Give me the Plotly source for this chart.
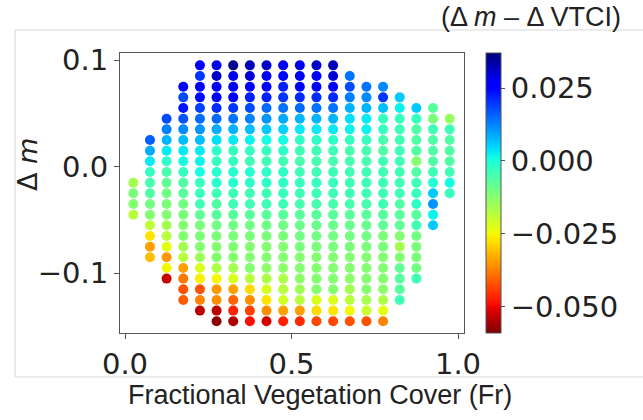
import plotly.graph_objects as go

# Fractional vegetation cover (x) for each column of the grid
FR = [0.025, 0.075, 0.125, 0.175, 0.225, 0.275, 0.325, 0.375, 0.425, 0.475,
      0.525, 0.575, 0.625, 0.675, 0.725, 0.775, 0.825, 0.875, 0.925, 0.975]
# Delta m levels (y), top to bottom
DM = [0.095, 0.085, 0.075, 0.065, 0.055, 0.045, 0.035, 0.025, 0.015, 0.005,
      -0.005, -0.015, -0.025, -0.035, -0.045, -0.055, -0.065, -0.075, -0.085,
      -0.095, -0.105, -0.115, -0.125, -0.135, -0.145]
# first DM row index present in each column
START = [11, 7, 5, 2, 0, 0, 0, 0, 0, 0, 0, 0, 0, 1, 2, 2, 3, 4, 4, 5]
# (Delta m - Delta VTCI) per column, from its top point downward
C0 = [-0.016, -0.011, -0.012, -0.018]
C1 = [0.016, 0.009, 0.003, -0.003, -0.005, -0.006, -0.010, -0.012, -0.019, -0.027, -0.034, -0.031]
C2 = [0.018, 0.013, 0.008, 0.003, -0.002, -0.005, -0.008, -0.010, -0.011, -0.012, -0.016, -0.018,
      -0.023, -0.035, -0.025, -0.053]
C3 = [0.025, 0.018, 0.023, 0.017, 0.012, 0.007, 0.003, 0.001, -0.003, -0.006, -0.007, -0.010,
      -0.011, -0.012, -0.012, -0.016, -0.018, -0.034, -0.038, -0.042, -0.041]
C4 = [0.027, 0.020, 0.025, 0.024, 0.019, 0.015, 0.011, 0.007, 0.003, 0.002, 0.001, -0.003,
      -0.003, -0.004, -0.008, -0.011, -0.011, -0.012, -0.015, -0.022, -0.026, -0.042, -0.037, -0.054]
C5 = [0.028, 0.031, 0.027, 0.025, 0.021, 0.015, 0.009, 0.004, -0.002, -0.003, -0.001, -0.001,
      -0.004, -0.006, -0.007, -0.010, -0.011, -0.012, -0.012, -0.017, -0.025, -0.035, -0.036,
      -0.054, -0.058]
C6 = [0.036, 0.028, 0.027, 0.025, 0.020, 0.014, 0.008, 0.003, -0.003, -0.003, -0.001, -0.001,
      -0.004, -0.004, -0.007, -0.010, -0.011, -0.012, -0.012, -0.016, -0.022, -0.034, -0.040,
      -0.047, -0.055]
C7 = [0.032, 0.030, 0.026, 0.022, 0.018, 0.013, 0.007, 0.002, -0.003, -0.004, -0.001, -0.002,
      -0.004, -0.004, -0.007, -0.010, -0.011, -0.012, -0.012, -0.012, -0.018, -0.028, -0.036,
      -0.044, -0.049]
C8 = [0.031, 0.028, 0.026, 0.022, 0.015, 0.011, 0.006, 0.001, -0.003, -0.004, -0.002, -0.002,
      -0.004, -0.004, -0.007, -0.010, -0.011, -0.012, -0.012, -0.013, -0.017, -0.022, -0.027,
      -0.036, -0.052]
C9 = [0.028, 0.026, 0.022, 0.020, 0.014, 0.009, 0.005, 0.001, -0.002, -0.004, -0.002, -0.002,
      -0.003, -0.004, -0.007, -0.010, -0.011, -0.012, -0.012, -0.013, -0.017, -0.018, -0.021,
      -0.034, -0.047]
C10 = [0.028, 0.027, 0.025, 0.021, 0.015, 0.008, 0.003, -0.002, -0.004, -0.005, -0.004, -0.003,
       -0.004, -0.005, -0.007, -0.009, -0.010, -0.011, -0.012, -0.012, -0.013, -0.015, -0.018,
       -0.034, -0.046]
C11 = [0.031, 0.027, 0.025, 0.021, 0.014, 0.008, 0.003, -0.002, -0.004, -0.005, -0.004, -0.003,
       -0.004, -0.005, -0.007, -0.009, -0.010, -0.011, -0.012, -0.012, -0.012, -0.012, -0.022,
       -0.028, -0.043]
C12 = [0.032, 0.030, 0.027, 0.021, 0.014, 0.008, 0.003, -0.002, -0.004, -0.005, -0.004, -0.003,
       -0.004, -0.005, -0.007, -0.009, -0.010, -0.011, -0.012, -0.012, -0.012, -0.012, -0.022,
       -0.027, -0.043]
C13 = [0.014, 0.018, 0.013, 0.008, 0.004, 0.002, -0.003, -0.005, -0.005, -0.004, -0.004, -0.004,
       -0.005, -0.007, -0.009, -0.010, -0.011, -0.012, -0.012, -0.013, -0.016, -0.018, -0.025,
       -0.042]
C14 = [0.014, 0.012, 0.008, 0.003, 0.002, -0.003, -0.005, -0.005, -0.004, -0.004, -0.004, -0.005,
       -0.007, -0.009, -0.010, -0.011, -0.012, -0.012, -0.012, -0.012, -0.016, -0.020, -0.042]
C15 = [0.012, 0.020, 0.007, -0.003, -0.003, -0.005, -0.006, -0.004, -0.004, -0.004, -0.004, -0.004,
       -0.007, -0.008, -0.011, -0.011, -0.012, -0.012, -0.012, -0.013, -0.017, -0.023, -0.037]
C16 = [0.006, 0.002, -0.003, -0.004, -0.004, -0.004, -0.004, -0.004, -0.004, -0.004, -0.006, -0.007,
       -0.008, -0.012, -0.016, -0.012, -0.008, -0.007, -0.007, -0.004]
C17 = [0.006, -0.003, -0.006, -0.006, -0.006, -0.012, -0.006, -0.004, -0.003, -0.002, -0.007, -0.004,
       -0.010, -0.011, -0.011, -0.010, -0.004]
C18 = [-0.007, -0.011, -0.004, -0.006, -0.006, -0.006, -0.004, -0.001, 0.006, 0.011, 0.002, 0.006]
C19 = [-0.014, -0.004, -0.006, -0.006, -0.006, -0.004, 0.001, -0.003]
COLUMNS = [C0, C1, C2, C3, C4, C5, C6, C7, C8, C9, C10, C11, C12, C13, C14, C15, C16, C17, C18, C19]

X_TICKS = [0.0, 0.5, 1.0]
X_TICKTEXT = ["0.0", "0.5", "1.0"]
Y_TICKS = [0.1, 0.0, -0.1]
Y_TICKTEXT = ["0.1", "0.0", "\u22120.1"]
CB_TICKS = [0.025, 0.0, -0.025, -0.05]
CB_TICKTEXT = ["0.025", "0.000", "\u22120.025", "\u22120.050"]
VMIN, VMAX = -0.059, 0.037

xs, ys, vs = [], [], []
for fr, start, col in zip(FR, START, COLUMNS):
    for i, v in enumerate(col):
        xs.append(fr)
        ys.append(DM[start + i])
        vs.append(v)

# matplotlib 'jet', reversed
def interp(seg, t):
    for (a, va), (b, vb) in zip(seg[:-1], seg[1:]):
        if a <= t <= b:
            return va + (vb - va) * (t - a) / (b - a) if b > a else va
    return seg[-1][1]

RED = [(0, 0), (0.35, 0), (0.66, 1), (0.89, 1), (1, 0.5)]
GRN = [(0, 0), (0.125, 0), (0.375, 1), (0.64, 1), (0.91, 0), (1, 0)]
BLU = [(0, 0.5), (0.11, 1), (0.34, 1), (0.65, 0), (1, 0)]
scale = []
N = 64
for i in range(N + 1):
    t = i / N
    s = 1 - t
    r, g, b = interp(RED, s), interp(GRN, s), interp(BLU, s)
    scale.append([t, f"rgb({int(r*255)},{int(g*255)},{int(b*255)})"])

fig = go.Figure(go.Scatter(
    x=xs, y=ys, mode="markers",
    marker=dict(size=10, color=vs, colorscale=scale, cmin=VMIN, cmax=VMAX,
                line=dict(width=0),
                colorbar=dict(
                    x=1.064, xanchor="left", y=0, yanchor="bottom", len=1, lenmode="fraction",
                    thickness=15, thicknessmode="pixels", outlinewidth=1, outlinecolor="#555",
                    tickvals=CB_TICKS, ticktext=CB_TICKTEXT, ticks="outside", ticklen=4,
                    tickcolor="#555", tickfont=dict(family="DejaVu Sans", size=29, color="#222"),
                    xpad=0, ypad=0)),
    hoverinfo="skip"))

axis_common = dict(showgrid=False, zeroline=False, showline=True, linecolor="#555", linewidth=1,
                   mirror=True, ticks="outside", ticklen=5, tickcolor="#555",
                   tickfont=dict(family="DejaVu Sans", size=29, color="#222"))
fig.update_xaxes(range=[-0.015, 1.018], tickvals=X_TICKS, ticktext=X_TICKTEXT, **axis_common)
fig.update_yaxes(range=[-0.156, 0.1066], tickvals=Y_TICKS, ticktext=Y_TICKTEXT, **axis_common)

fig.update_layout(
    width=643, height=420, margin=dict(l=120, r=179, t=53, b=87),
    paper_bgcolor="white", plot_bgcolor="white", showlegend=False,
    shapes=[dict(type="rect", xref="paper", yref="paper", x0=-0.305, x1=1.55, y0=-0.157, y1=1.082,
                 line=dict(color="#d8d8d8", width=1), layer="below")],
    annotations=[
        dict(text="Fractional Vegetation Cover (Fr)", xref="paper", yref="paper", x=0.581, y=-0.221,
             showarrow=False, xanchor="center", yanchor="middle",
             font=dict(family="Liberation Sans", size=27, color="#222")),
        dict(text="\u0394 <i>m</i>", xref="paper", yref="paper", x=-0.27, y=0.6, textangle=-90,
             showarrow=False, xanchor="center", yanchor="middle",
             font=dict(family="DejaVu Sans", size=27, color="#222")),
        dict(text="(\u0394 <i>m</i> \u2013 \u0394 VTCI)", xref="paper", yref="paper", x=1.195, y=1.128,
             showarrow=False, xanchor="center", yanchor="middle",
             font=dict(family="Liberation Sans", size=27, color="#222")),
    ],
)
fig.write_html("out.html")
